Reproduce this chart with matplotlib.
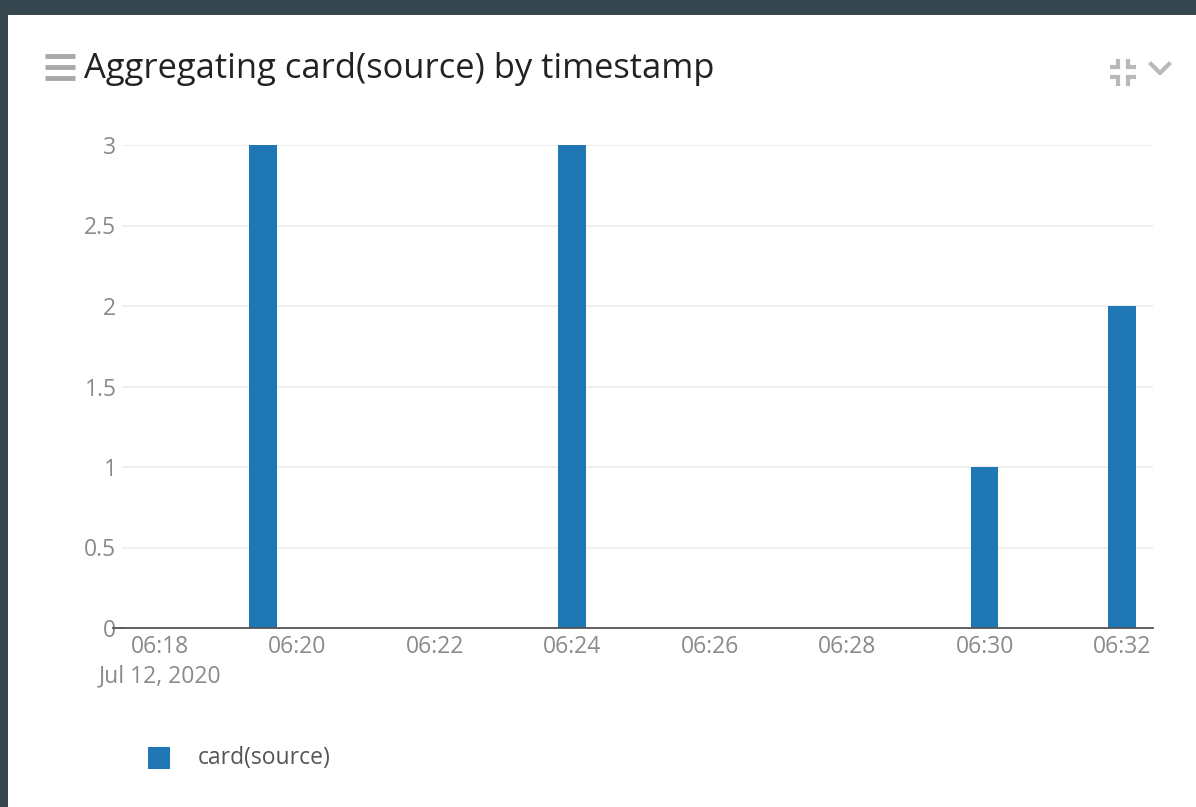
import matplotlib
matplotlib.use("Agg")
import matplotlib.pyplot as plt
import matplotlib.dates as mdates
from matplotlib.lines import Line2D
from matplotlib.patches import Rectangle
import numpy as np

# ---- data ----
title = "Aggregating card(source) by timestamp"
series_name = "card(source)"
bar_times = ["2020-07-12T06:19:30", "2020-07-12T06:24:00", "2020-07-12T06:30:00", "2020-07-12T06:32:00"]
bar_values = [3, 3, 1, 2]
tick_times = ["2020-07-12T06:18", "2020-07-12T06:20", "2020-07-12T06:22", "2020-07-12T06:24",
              "2020-07-12T06:26", "2020-07-12T06:28", "2020-07-12T06:30", "2020-07-12T06:32"]
tick_labels = ["06:18", "06:20", "06:22", "06:24", "06:26", "06:28", "06:30", "06:32"]
date_label = "Jul 12, 2020"
y_ticks = [0, 0.5, 1, 1.5, 2, 2.5, 3]
y_tick_labels = ["0", "0.5", "1", "1.5", "2", "2.5", "3"]
x_range = ["2020-07-12T06:17:27", "2020-07-12T06:32:27"]
bar_width_seconds = 24

plt.rcParams['font.family'] = ['Open Sans', 'DejaVu Sans']

W, H = 1196, 807
fig = plt.figure(figsize=(W / 100, H / 100), dpi=100)
fig.patch.set_facecolor("#37474f")
# white panel
fig.patches.append(Rectangle((8 / W, 0), 1 - 8 / W, 1 - 15 / H, transform=fig.transFigure,
                             facecolor="white", edgecolor="none", zorder=-5))

ax = fig.add_axes([122 / W, 1 - 628 / H, (1153 - 122) / W, (628 - 145) / H])
ax.set_zorder(2)
ax.set_facecolor("none")

xt = mdates.date2num(np.array(bar_times, dtype="datetime64[s]"))
ax.bar(xt, bar_values, width=bar_width_seconds / 86400, color="#1f77b4", zorder=3)

xr = mdates.date2num(np.array(x_range, dtype="datetime64[s]"))
ax.set_xlim(xr[0], xr[1])
ax.set_ylim(0, 3)

tt = mdates.date2num(np.array(tick_times, dtype="datetime64[s]"))
ax.set_xticks(tt)
ax.set_xticklabels(tick_labels, fontsize=16.5, color="#8a8a8a")
ax.tick_params(axis="x", length=0, pad=5)
# date line under the first tick
ax.annotate(date_label, xy=(tt[0], 0), xycoords=("data", "axes fraction"),
            xytext=(0, -26.5), textcoords="offset points", ha="center", va="top",
            fontsize=16.5, color="#8a8a8a", annotation_clip=False)

ax.set_yticks(y_ticks)
ax.set_yticklabels(y_tick_labels, fontsize=16.5, color="#8a8a8a")
ax.tick_params(axis="y", length=0, pad=4)

ax.grid(axis="y", color="#ececec", linewidth=1.2, zorder=0)
ax.set_axisbelow(True)
for s in ["top", "right", "left"]:
    ax.spines[s].set_visible(False)
ax.spines["bottom"].set_color("#555555")
ax.spines["bottom"].set_linewidth(1.3)
ax.spines["bottom"].set_zorder(4)
# small tick at zero on the left
ax.add_line(Line2D([-9 / (1153 - 122), 0], [0, 0], transform=ax.transAxes, color="#555555",
                   linewidth=1.3, clip_on=False))

# title
fig.text(84 / W, 1 - 69 / H, title, fontsize=24.8, color="#222222", va="center", ha="left")
# hamburger icon
for yy in [56, 67, 78]:
    fig.add_artist(Line2D([45 / W, 75 / W], [1 - yy / H, 1 - yy / H], color="#a8a8a8", linewidth=3.5,
                          solid_capstyle="butt"))

# compress icon (top right)
gc = "#b8b8b8"
lw = 3
segs = [
    [(1110, 67), (1118, 67), (1118, 59)],
    [(1136, 67), (1128, 67), (1128, 59)],
    [(1110, 77), (1118, 77), (1118, 86)],
    [(1136, 77), (1128, 77), (1128, 86)],
]
for seg in segs:
    xs = [p[0] / W for p in seg]
    ys = [1 - p[1] / H for p in seg]
    fig.add_artist(Line2D(xs, ys, color=gc, linewidth=lw, solid_capstyle="butt", solid_joinstyle="miter"))
# chevron
fig.add_artist(Line2D([1151 / W, 1160 / W, 1169 / W], [1 - 64 / H, 1 - 73 / H, 1 - 64 / H],
                      color=gc, linewidth=lw))

# legend
fig.patches.append(Rectangle((148 / W, 1 - 769 / H), 22 / W, 22 / H, transform=fig.transFigure,
                             facecolor="#1f77b4", edgecolor="none"))
fig.text(198 / W, 1 - 758 / H, series_name, fontsize=16.5, color="#555555", va="center", ha="left")

fig.savefig("out.png", dpi=100, facecolor=fig.get_facecolor())
